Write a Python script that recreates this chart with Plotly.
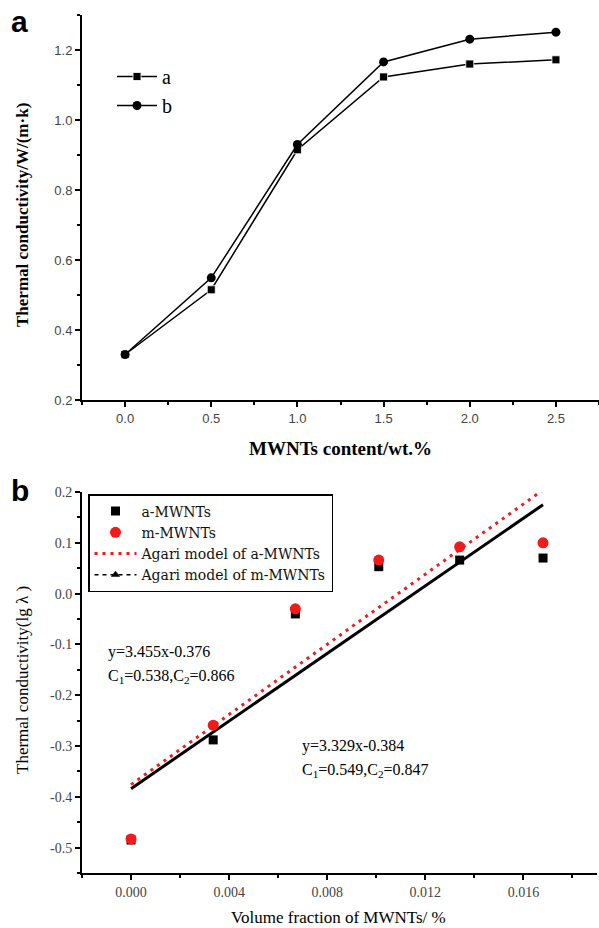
import plotly.graph_objects as go

# ---------------- data: panel a ----------------
wt_content = [0.0, 0.5, 1.0, 1.5, 2.0, 2.5]
cond_a = [0.33, 0.515, 0.915, 1.123, 1.160, 1.172]
cond_b = [0.33, 0.549, 0.930, 1.166, 1.231, 1.251]

# ---------------- data: panel b ----------------
vol_frac = [0.0, 0.00335, 0.0067, 0.0101, 0.0134, 0.0168]
lg_a_mwnts = [-0.485, -0.288, -0.040, 0.053, 0.066, 0.070]
lg_m_mwnts = [-0.483, -0.259, -0.030, 0.066, 0.092, 0.100]
model_x = [0.0, 0.0168]
model_a = [-0.376, 0.204]
model_m = [-0.384, 0.175]

b_ytickvals = [0.2, 0.1, 0.0, -0.1, -0.2, -0.3, -0.4, -0.5]
b_yticktext = ["0.2", "0.1", "0.0", "-0.1", "-0.2", "-0.3", "-0.4", "-0.5"]

W, H = 599, 928
def px(x): return x / W
def py(y): return 1 - y / H

SERIF = "Liberation Serif, Times New Roman, serif"
WSERIF = "DejaVu Serif, serif"
SANS = "Liberation Sans, Arial, sans-serif"
RED = "#f21a1a"

fig = go.Figure()

# panel a
fig.add_trace(go.Scatter(x=wt_content, y=cond_a, name="a", mode="lines+markers",
                         line=dict(color="black", width=1.5),
                         marker=dict(symbol="square", size=8, color="black",
                                     line=dict(color="white", width=0.8)),
                         xaxis="x", yaxis="y", legend="legend"))
fig.add_trace(go.Scatter(x=wt_content, y=cond_b, name="b", mode="lines+markers",
                         line=dict(color="black", width=1.5),
                         marker=dict(symbol="circle", size=9, color="black"),
                         xaxis="x", yaxis="y", legend="legend"))

# panel b
fig.add_trace(go.Scatter(x=model_x, y=model_m, mode="lines", showlegend=False,
                         line=dict(color="black", width=3),
                         xaxis="x2", yaxis="y2"))
fig.add_trace(go.Scatter(x=model_x, y=model_a, name="Agari model of a-MWNTs", mode="lines",
                         line=dict(color=RED, width=3, dash="3px,5px"),
                         xaxis="x2", yaxis="y2", legend="legend2", legendrank=3))
fig.add_trace(go.Scatter(x=[None], y=[None], name="Agari model of m-MWNTs", mode="lines+markers",
                         line=dict(color="black", width=1.5, dash="4px,4px"),
                         marker=dict(symbol="triangle-up", size=8, color="black"),
                         xaxis="x2", yaxis="y2", legend="legend2", legendrank=4))
fig.add_trace(go.Scatter(x=vol_frac, y=lg_a_mwnts, name="a-MWNTs", mode="markers",
                         marker=dict(symbol="square", size=9, color="black"),
                         xaxis="x2", yaxis="y2", legend="legend2", legendrank=1))
fig.add_trace(go.Scatter(x=vol_frac, y=lg_m_mwnts, name="m-MWNTs", mode="markers",
                         marker=dict(symbol="circle", size=11, color=RED),
                         xaxis="x2", yaxis="y2", legend="legend2", legendrank=2))

axis_common = dict(showline=True, linecolor="black", linewidth=2, ticks="outside",
                   ticklen=5, tickwidth=1.5, tickcolor="black", showgrid=False,
                   zeroline=False, mirror=False)

fig.update_layout(
    width=W, height=H, margin=dict(l=0, r=0, t=0, b=0, autoexpand=False),
    paper_bgcolor="white", plot_bgcolor="white",
    xaxis=dict(domain=[px(82), 1.0], range=[-0.25, 2.75], anchor="y",
               dtick=0.5, tick0=0, tickformat=".1f",
               minor=dict(dtick=0.25, ticklen=3, tickwidth=1.5, tickcolor="black", ticks="outside"),
               tickfont=dict(family=SANS, size=13, color="#444"), **axis_common),
    yaxis=dict(domain=[py(400), py(15)], range=[0.2, 1.3], anchor="x",
               dtick=0.2, tick0=0.2, tickformat=".1f",
               minor=dict(dtick=0.1, ticklen=3, tickwidth=1.5, tickcolor="black", ticks="outside"),
               tickfont=dict(family=SANS, size=13, color="#444"), **axis_common),
    xaxis2=dict(domain=[px(82), px(597)], range=[-0.002, 0.019], anchor="y2",
                dtick=0.004, tick0=0, tickformat=".3f",
                minor=dict(dtick=0.002, ticklen=3, tickwidth=1.5, tickcolor="black", ticks="outside"),
                tickfont=dict(family=SERIF, size=14, color="#444"), **axis_common),
    yaxis2=dict(domain=[py(873), py(492)], range=[-0.55, 0.2], anchor="x2",
                tickvals=b_ytickvals, ticktext=b_yticktext,
                minor=dict(dtick=0.05, ticklen=3, tickwidth=1.5, tickcolor="black", ticks="outside"),
                tickfont=dict(family=SERIF, size=14, color="#444"), **axis_common),
    legend=dict(x=px(112), y=py(57), xanchor="left", yanchor="top",
                bgcolor="rgba(0,0,0,0)", font=dict(family=SERIF, size=20, color="black"),
                tracegroupgap=0, itemwidth=40),
    legend2=dict(x=px(88), y=py(494), xanchor="left", yanchor="top",
                 bgcolor="white", bordercolor="black", borderwidth=1.5, itemwidth=42,
                 font=dict(family=WSERIF, size=14, color="#111"), traceorder="normal"),
)

ann = []
ann.append(dict(text="<b>a</b>", x=px(19), y=py(22), font=dict(family=SANS, size=30, color="black")))
ann.append(dict(text="<b>b</b>", x=px(20), y=py(490), font=dict(family=SANS, size=30, color="black")))
ann.append(dict(text="<b>MWNTs content/wt.%</b>", x=px(341), y=py(448),
                font=dict(family=SERIF, size=19, color="black")))
ann.append(dict(text="<b>Thermal conductivity/W/(m·k)</b>", x=px(22), y=py(215), textangle=-90,
                font=dict(family=SERIF, size=17, color="black")))
ann.append(dict(text="Volume fraction of MWNTs/ %", x=px(338), y=py(917),
                font=dict(family=SERIF, size=17, color="black")))
ann.append(dict(text="Thermal conductivity(lg λ )", x=px(22), y=py(680), textangle=-90,
                font=dict(family=SERIF, size=17, color="black")))
ann.append(dict(text="y=3.455x-0.376", x=px(106), y=py(652), xanchor="left",
                font=dict(family=SERIF, size=16, color="black")))
ann.append(dict(text="C<sub>1</sub>=0.538,C<sub>2</sub>=0.866", x=px(106), y=py(676), xanchor="left",
                font=dict(family=SERIF, size=16, color="black")))
ann.append(dict(text="y=3.329x-0.384", x=px(300), y=py(746), xanchor="left",
                font=dict(family=SERIF, size=16, color="black")))
ann.append(dict(text="C<sub>1</sub>=0.549,C<sub>2</sub>=0.847", x=px(300), y=py(770), xanchor="left",
                font=dict(family=SERIF, size=16, color="black")))
for a in ann:
    a.setdefault("xanchor", "center")
    a.update(xref="paper", yref="paper", yanchor="middle", showarrow=False)
fig.update_layout(annotations=ann)

fig.write_html("out.html", config={"displayModeBar": False},
               post_script="document.body.style.margin='0';")
